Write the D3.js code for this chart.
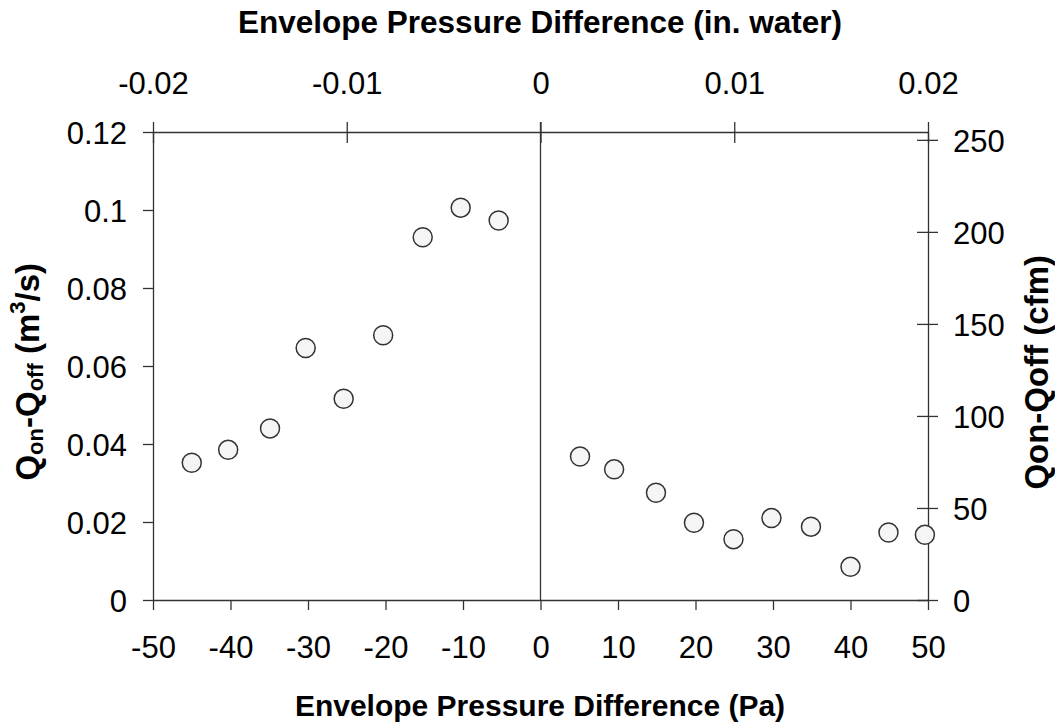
<!DOCTYPE html>
<html>
<head>
<meta charset="utf-8">
<script src="https://cdn.jsdelivr.net/npm/d3@7"></script>
<style>
  html, body { margin: 0; padding: 0; background: #fff; }
  svg { display: block; font-family: "Liberation Sans", Arial, sans-serif; }
</style>
</head>
<body>
<svg id="chart" width="1055" height="722"></svg>
<script>
// ---- data ----
const negPressure = [-45, -40.3, -34.9, -30.3, -25.4, -20.3, -15.2, -10.3, -5.4];
const negFlow     = [0.0352, 0.0385, 0.0440, 0.0646, 0.0516, 0.0679, 0.0930, 0.1006, 0.0973];
const posPressure = [5.1, 9.5, 14.9, 19.8, 24.9, 29.8, 34.9, 40.0, 44.9, 49.6];
const posFlow     = [0.0368, 0.0335, 0.0275, 0.0198, 0.0156, 0.0210, 0.0188, 0.0085, 0.0173, 0.0167];

const bottomTicks = [-50, -40, -30, -20, -10, 0, 10, 20, 30, 40, 50];
const bottomTickLabels = ["-50", "-40", "-30", "-20", "-10", "0", "10", "20", "30", "40", "50"];
const topTicks = [-0.02, -0.01, 0, 0.01, 0.02];
const topTickLabels = ["-0.02", "-0.01", "0", "0.01", "0.02"];
const leftTicks = [0, 0.02, 0.04, 0.06, 0.08, 0.1, 0.12];
const leftTickLabels = ["0", "0.02", "0.04", "0.06", "0.08", "0.1", "0.12"];
const rightTicks = [0, 50, 100, 150, 200, 250];
const rightTickLabels = ["0", "50", "100", "150", "200", "250"];
const CFM_PER_M3S = 2118.88;

const points = negPressure.map((p, i) => ({ p, q: negFlow[i] }))
  .concat(posPressure.map((p, i) => ({ p, q: posFlow[i] })));

// ---- layout ----
const L = 153, R = 928, T = 132, B = 600;
const axisColor = "#333";
const tickFont = 31;
const svg = d3.select("#chart");

const x = d3.scaleLinear().domain([-50, 50]).range([L, R]);
const xTop = d3.scaleLinear().domain([-0.02, 0.02]).range([L, R]);
const y = d3.scaleLinear().domain([0, 0.12]).range([B, T]);
const yR = d3.scaleLinear().domain([0, 0.12 * CFM_PER_M3S]).range([B, T]);

function styleAxis(g) {
  g.selectAll("path.domain").attr("stroke", axisColor).attr("stroke-width", 1.3);
  g.selectAll(".tick line").attr("stroke", axisColor).attr("stroke-width", 1.3);
  g.selectAll(".tick text").attr("fill", "#000").attr("font-size", tickFont)
    .attr("font-family", "'Liberation Sans', Arial, sans-serif");
}

// bottom axis
const gB = svg.append("g").attr("transform", `translate(0,${B})`)
  .call(d3.axisBottom(x).tickValues(bottomTicks)
    .tickFormat((d, i) => bottomTickLabels[i]).tickSizeInner(10).tickSizeOuter(0));
styleAxis(gB);
gB.selectAll(".tick text").attr("y", 58).attr("dy", 0);

// top axis (crossing ticks)
const gT = svg.append("g").attr("transform", `translate(0,${T})`)
  .call(d3.axisTop(xTop).tickValues(topTicks)
    .tickFormat((d, i) => topTickLabels[i]).tickSizeInner(10).tickSizeOuter(0));
styleAxis(gT);
gT.selectAll(".tick line").attr("y1", 11).attr("y2", -10);
gT.selectAll(".tick text").attr("y", -38).attr("dy", 0);

// left axis
const gL = svg.append("g").attr("transform", `translate(${L},0)`)
  .call(d3.axisLeft(y).tickValues(leftTicks)
    .tickFormat((d, i) => leftTickLabels[i]).tickSizeInner(10).tickSizeOuter(0));
styleAxis(gL);
gL.selectAll(".tick text").attr("x", -26).attr("dy", "0.36em");

// right axis (crossing ticks)
const gR = svg.append("g").attr("transform", `translate(${R},0)`)
  .call(d3.axisRight(yR).tickValues(rightTicks)
    .tickFormat((d, i) => rightTickLabels[i]).tickSizeInner(10).tickSizeOuter(0));
styleAxis(gR);
gR.selectAll(".tick line").attr("x1", -11).attr("x2", 10);
gR.selectAll(".tick text").attr("x", 25).attr("dy", "0.36em");

// zero reference line
svg.append("line")
  .attr("x1", x(0)).attr("x2", x(0)).attr("y1", T - 10).attr("y2", B)
  .attr("stroke", axisColor).attr("stroke-width", 1.3);

// points
svg.append("g").selectAll("circle").data(points).join("circle")
  .attr("cx", d => x(d.p)).attr("cy", d => y(d.q)).attr("r", 9.5)
  .attr("fill", "#f5f5f5").attr("stroke", "#333").attr("stroke-width", 1.5);

// titles
svg.append("text").attr("x", 540).attr("y", 33).attr("text-anchor", "middle")
  .attr("font-weight", "bold").attr("font-size", 31.5)
  .text("Envelope Pressure Difference (in. water)");
svg.append("text").attr("x", 540).attr("y", 716).attr("text-anchor", "middle")
  .attr("font-weight", "bold").attr("font-size", 30)
  .text("Envelope Pressure Difference (Pa)");

// left label with sub/superscripts
const lt = svg.append("text")
  .attr("transform", "translate(39,263) rotate(-90)")
  .attr("text-anchor", "end").attr("font-weight", "bold").attr("font-size", 33);
lt.append("tspan").text("Q");
lt.append("tspan").attr("font-size", 22).attr("dy", 4).text("on");
lt.append("tspan").attr("dy", -4).text("-Q");
lt.append("tspan").attr("font-size", 22).attr("dy", 4).text("off");
lt.append("tspan").attr("dy", -4).text(" (m");
lt.append("tspan").attr("font-size", 22).attr("dy", -14).text("3");
lt.append("tspan").attr("dy", 14).text("/s)");

// right label
svg.append("text")
  .attr("transform", "translate(1048,255) rotate(-90)")
  .attr("text-anchor", "end").attr("font-weight", "bold").attr("font-size", 33)
  .text("Qon-Qoff (cfm)");
</script>
</body>
</html>
